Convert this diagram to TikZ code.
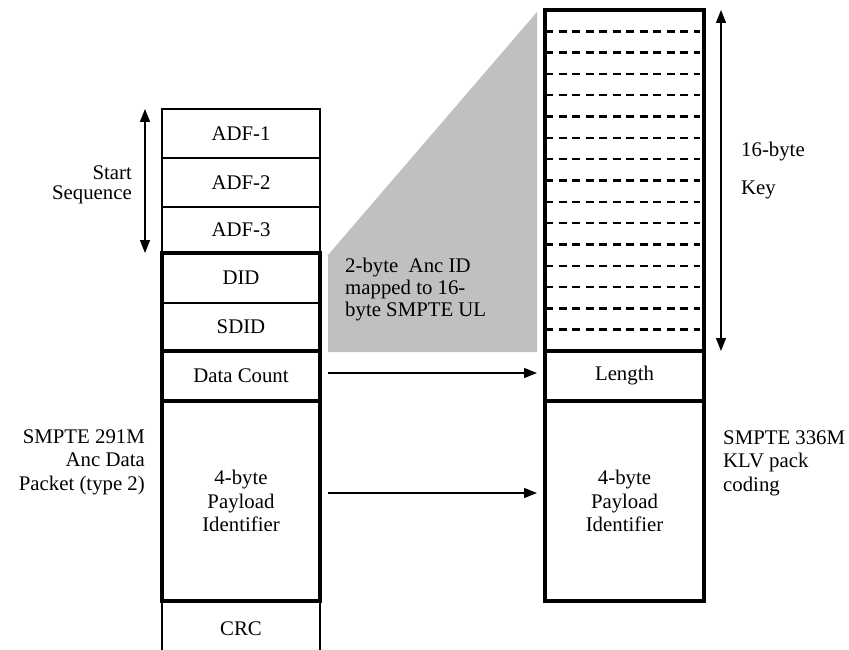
\documentclass[tikz,border=0pt]{standalone}
\usepackage{fontspec}
\setmainfont{Liberation Serif}
\usetikzlibrary{arrows.meta,positioning,calc}
\definecolor{ulgray}{HTML}{C0C0C0}
\tikzset{
  field/.style={draw, line width=1.2pt, minimum width=158pt, inner sep=0pt, outer sep=0pt, align=center},
  group/.style={draw, line width=3.6pt},
  lnote/.style={inner sep=0pt, align=left},
  rnote/.style={inner sep=0pt, align=right},
  link/.style={line width=1.3pt, -{Triangle[length=13pt,width=10pt]}},
  extent/.style={line width=1.3pt, {Triangle[length=13pt,width=10pt]}-{Triangle[length=13pt,width=10pt]}},
  keyline/.style={line width=2.4pt, dash pattern=on 8pt off 5.5pt},
}
\begin{document}
\begin{tikzpicture}[x=1pt,y=-1pt,font=\fontsize{20.8}{23.5}\selectfont]
\useasboundingbox (0,0) rectangle (849,650);
% shaded UL mapping
\fill[ulgray] (328,255) -- (537,12) -- (537,352) -- (328,352) -- cycle;
%
% 291M anc data packet
\node[field, minimum height=49pt, anchor=north] (adf1) at (241,109) {ADF-1};
\node[field, minimum height=49pt, anchor=north] (adf2) at (adf1.south) {ADF-2};
\node[field, minimum height=46pt, anchor=north] (adf3) at (adf2.south) {ADF-3};
\node[field, minimum height=50pt, anchor=north] (did) at (adf3.south) {DID};
\node[field, minimum height=48pt, anchor=north] (sdid) at (did.south) {SDID};
\node[field, minimum height=50pt, anchor=north] (dc) at (sdid.south) {Data Count};
\node[field, minimum height=200pt, anchor=north] (pid) at (dc.south) {4-byte\\Payload\\Identifier};
\node[field, minimum height=56pt, anchor=north] (crc) at (pid.south) {CRC};
\draw[group] (did.north west) rectangle (sdid.south east);
\draw[group] (dc.north west) rectangle (dc.south east);
\draw[group] (pid.north west) rectangle (pid.south east);
%
% 336M KLV pack
\node[field, minimum width=159pt, minimum height=341pt, anchor=north] (key) at (624.5,10) {};
\node[field, minimum width=159pt, minimum height=50pt, anchor=north] (len) at (key.south) {Length};
\node[field, minimum width=159pt, minimum height=200pt, anchor=north] (kpid) at (len.south) {4-byte\\Payload\\Identifier};
\foreach \i in {1,...,15}
  \draw[keyline] ($(key.north west)!\i/16!(key.south west)$) -- ++(155,0);
\draw[group] (key.north west) rectangle (key.south east);
\draw[group] (len.north west) rectangle (len.south east);
\draw[group] (kpid.north west) rectangle (kpid.south east);
%
\draw[link] ([xshift=8pt,yshift=3pt]dc.east) -- ([xshift=-8pt,yshift=3pt]len.west);
\draw[link] ([xshift=8pt,yshift=8pt]pid.east) -- ([xshift=-8pt,yshift=8pt]kpid.west);
\draw[extent] ([xshift=-17pt]adf1.north west) -- ([xshift=-17pt]adf3.south west);
\draw[extent] ([xshift=17pt]key.north east) -- ([xshift=17pt]key.south east);
%
\node[rnote, anchor=east, font=\fontsize{20.8}{20}\selectfont] (startseq) at (132,185) {Start\\Sequence};
\node[rnote, anchor=east] (pktname) at (145,462) {SMPTE 291M\\Anc Data\\Packet (type 2)};
\node[lnote, anchor=west, font=\fontsize{20.8}{22}\selectfont] (ulnote) at (345,290) {2-byte\ \ Anc ID\\mapped to 16-\\byte SMPTE UL};
\node[lnote, anchor=west] (keysize) at (741,152) {16-byte};
\node[lnote, anchor=west] (keyname) at (741,190) {Key};
\node[lnote, anchor=west] (klvname) at (723,463) {SMPTE 336M\\KLV pack\\coding};
\end{tikzpicture}
\end{document}
